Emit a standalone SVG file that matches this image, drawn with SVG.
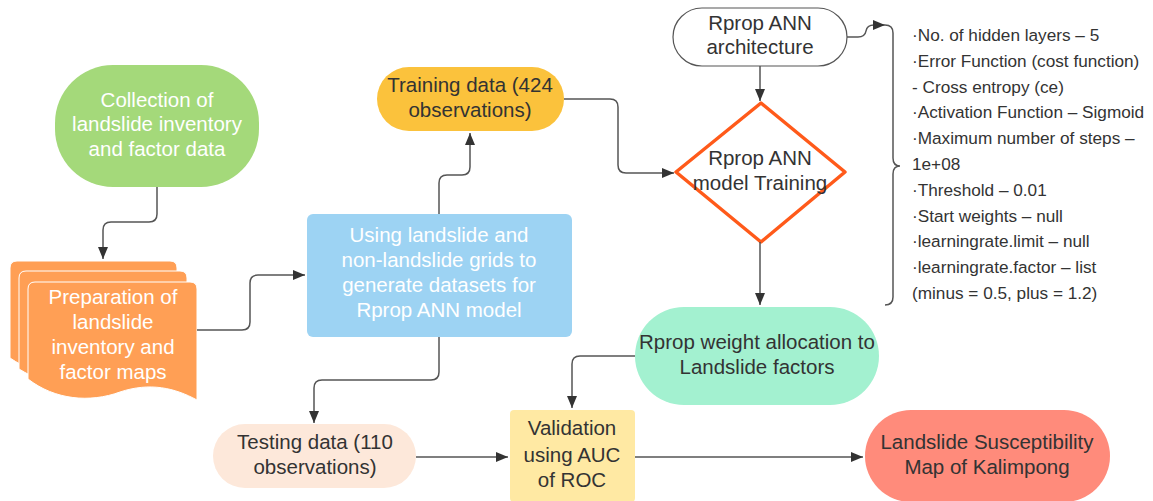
<svg xmlns="http://www.w3.org/2000/svg" width="1153" height="501" viewBox="0 0 1153 501">
<style>
text{font-family:"Liberation Sans",Arial,sans-serif;font-size:20.5px;text-anchor:middle;fill:#333}
.w{fill:#fff}
.l{font-size:17.2px;text-anchor:start;fill:#333}
.c{fill:none;stroke:#555;stroke-width:1.5}
.doc{fill:#FF9F55;stroke:#fff;stroke-width:1}
</style>
<defs>
<marker id="a" markerUnits="userSpaceOnUse" markerWidth="14" markerHeight="12" refX="12" refY="5" orient="auto">
<path d="M0,0 L12,5 L0,10 Z" fill="#333"/>
</marker>
</defs>
<rect width="1153" height="501" fill="#fff"/>

<g id="collection">
<rect x="55" y="65" width="204" height="122" rx="58" fill="#A4D97A"/>
<text class="w" x="157" y="107">Collection of</text>
<text class="w" x="157" y="131">landslide inventory</text>
<text class="w" x="157" y="156">and factor data</text>
</g>

<g id="preparation">
<path class="doc" d="M10,268 Q10,261 17,261 H170 Q177,261 177,268 V379 C155,368 130,362 100,372 C70,382 40,378 10,358 Z"/>
<path class="doc" d="M19,278 Q19,271 26,271 H180 Q187,271 187,278 V389 C165,378 140,372 110,382 C80,392 50,388 19,369 Z"/>
<path class="doc" d="M28,289 Q28,282 35,282 H190 Q197,282 197,289 V400 C175,388 150,382 120,392 C90,403 55,400 28,379 Z"/>
<text class="w" x="113" y="304">Preparation of</text>
<text class="w" x="113" y="329">landslide</text>
<text class="w" x="113" y="354">inventory and</text>
<text class="w" x="113" y="379">factor maps</text>
</g>

<g id="grids">
<rect x="307" y="214" width="265" height="123" rx="6" fill="#9DD3F3"/>
<text class="w" x="439" y="242">Using landslide and</text>
<text class="w" x="439" y="267">non-landslide grids to</text>
<text class="w" x="439" y="292">generate datasets for</text>
<text class="w" x="439" y="317">Rprop ANN model</text>
</g>

<g id="training">
<rect x="377" y="67" width="187" height="64" rx="32" fill="#FBC23C"/>
<text x="470" y="92">Training data (424</text>
<text x="470" y="117">observations)</text>
</g>

<g id="architecture">
<rect x="673" y="8" width="174" height="58" rx="29" fill="#fff" stroke="#555" stroke-width="1.2"/>
<text x="760" y="30">Rprop ANN</text>
<text x="760" y="54">architecture</text>
</g>

<g id="model">
<path d="M761,103 L845,172 L761,242 L676,172 Z" fill="#fff" stroke="#FF5A1A" stroke-width="3.5" stroke-linejoin="round"/>
<text x="760" y="165">Rprop ANN</text>
<text x="760" y="190">model Training</text>
</g>

<g id="params">
<text class="l" x="912" y="41">·No. of hidden layers – 5</text>
<text class="l" x="912" y="67">·Error Function (cost function)</text>
<text class="l" x="912" y="93">- Cross entropy (ce)</text>
<text class="l" x="912" y="118">·Activation Function – Sigmoid</text>
<text class="l" x="912" y="144">·Maximum number of steps –</text>
<text class="l" x="912" y="170">1e+08</text>
<text class="l" x="912" y="196">·Threshold – 0.01</text>
<text class="l" x="912" y="222">·Start weights – null</text>
<text class="l" x="912" y="247">·learningrate.limit – null</text>
<text class="l" x="912" y="273">·learningrate.factor – list</text>
<text class="l" x="912" y="299">(minus = 0.5, plus = 1.2)</text>
</g>

<g id="weights">
<rect x="635" y="307" width="244" height="98" rx="49" fill="#A3F1D0"/>
<text x="757" y="349">Rprop weight allocation to</text>
<text x="757" y="374">Landslide factors</text>
</g>

<g id="testing">
<rect x="213" y="424" width="203" height="64" rx="32" fill="#FDE8DA"/>
<text x="315" y="449">Testing data (110</text>
<text x="315" y="474">observations)</text>
</g>

<g id="validation">
<rect x="510" y="410" width="125" height="92" rx="4" fill="#FFE9A3"/>
<text x="572" y="435">Validation</text>
<text x="572" y="462">using AUC</text>
<text x="572" y="487">of ROC</text>
</g>

<g id="map">
<rect x="865" y="410" width="245" height="92" rx="46" fill="#FF8B7B"/>
<text x="987" y="449">Landslide Susceptibility</text>
<text x="987" y="474">Map of Kalimpong</text>
</g>

<g id="connectors">
<path class="c" marker-end="url(#a)" d="M157,187 V214 Q157,222 149,222 H111 Q103,222 103,230 V259"/>
<path class="c" marker-end="url(#a)" d="M197,330 H242 Q250,330 250,322 V283 Q250,275 258,275 H305"/>
<path class="c" marker-end="url(#a)" d="M439,214 V183 Q439,175 447,175 H462 Q470,175 470,167 V133"/>
<path class="c" marker-end="url(#a)" d="M564,99 H610 Q618,99 618,107 V165 Q618,173 626,173 H674"/>
<path class="c" marker-end="url(#a)" d="M760,66 V101"/>
<path class="c" marker-end="url(#a)" d="M760,242 V305"/>
<path class="c" marker-end="url(#a)" d="M847,37 H858 Q865,37 866,31 Q867,25 874,25 H885"/>
<path class="c" marker-end="url(#a)" d="M635,356 H580 Q572,356 572,364 V408"/>
<path class="c" marker-end="url(#a)" d="M439,337 V372 Q439,380 431,380 H322 Q314,380 314,388 V423"/>
<path class="c" marker-end="url(#a)" d="M416,457 H508"/>
<path class="c" marker-end="url(#a)" d="M635,457 H863"/>
<path class="c" stroke="#666" d="M885,25 Q893,25 893,33 V158 Q893,166 900,166 Q893,166 893,174 V297 Q893,305 885,305"/>
</g>
</svg>
